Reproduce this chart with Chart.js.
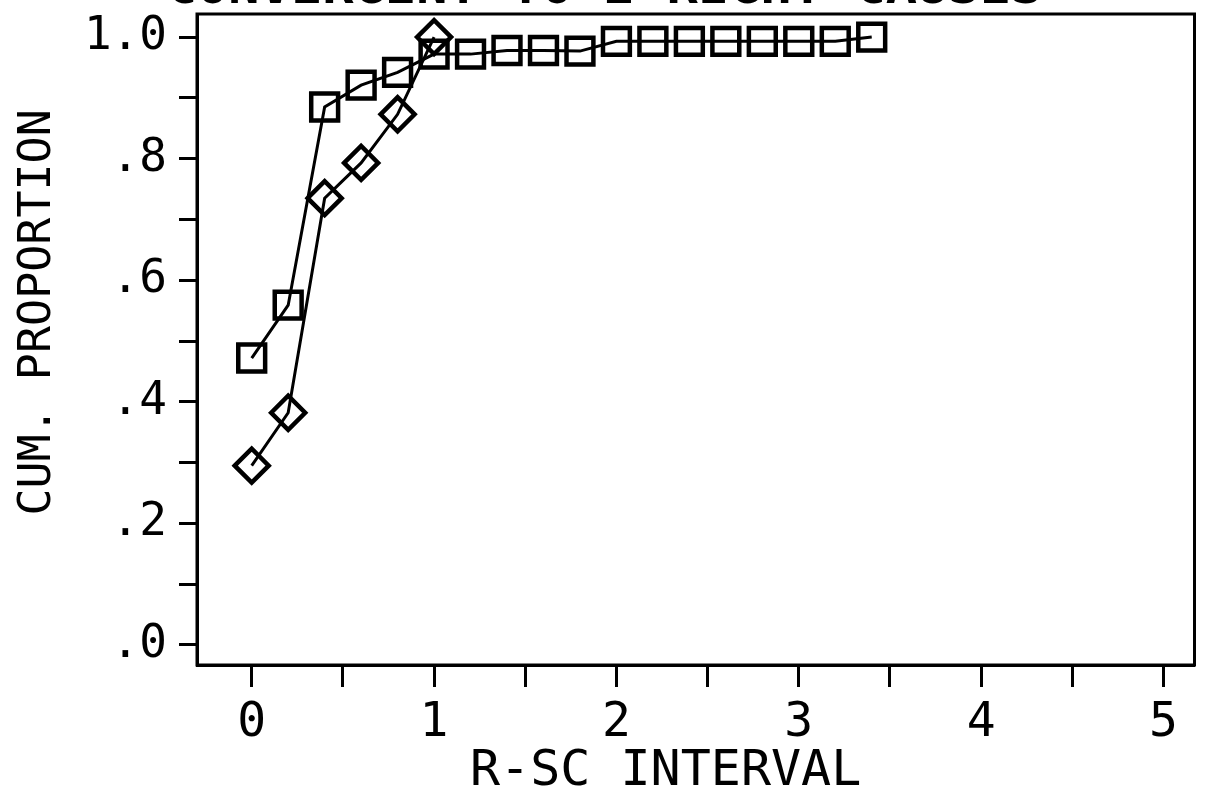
<!DOCTYPE html>
<html>
<head>
<meta charset="utf-8">
<title>R-SC interval</title>
<script src="https://cdn.jsdelivr.net/npm/chart.js@4/dist/chart.umd.min.js"></script>
<style>
  html, body { margin: 0; padding: 0; background: #fff; overflow: hidden; }
  #wrap { position: absolute; left: 0; top: -36px; width: 1218px; height: 833px; }
</style>
</head>
<body>
<div id="wrap"><canvas id="chart"></canvas></div>
<script>
// intervalos R-SC (eje x)
const intervals = [0, 0.2, 0.4, 0.6, 0.8, 1.0, 1.2, 1.4, 1.6, 1.8, 2.0, 2.2, 2.4, 2.6, 2.8, 3.0, 3.2, 3.4];
// serie con cuadrados
const squareValues = [0.472, 0.559, 0.885, 0.921, 0.942, 0.972, 0.972, 0.978, 0.978, 0.977, 0.993, 0.993, 0.993, 0.993, 0.993, 0.993, 0.993, 1.0];
// serie con rombos (solo hasta 1.0)
const diamondIntervals = [0, 0.2, 0.4, 0.6, 0.8, 1.0];
const diamondValues = [0.295, 0.382, 0.735, 0.793, 0.873, 1.0];
// marcas de los ejes
const xTicks = [0, 0.5, 1, 1.5, 2, 2.5, 3, 3.5, 4, 4.5, 5];
const xTickLabels = ["0", "", "1", "", "2", "", "3", "", "4", "", "5"];
const yTicks = [0, 0.1, 0.2, 0.3, 0.4, 0.5, 0.6, 0.7, 0.8, 0.9, 1.0];
const yTickLabels = [".0", "", ".2", "", ".4", "", ".6", "", ".8", "", "1.0"];

const FONT = "'DejaVu Sans Mono', 'Liberation Mono', monospace";

// marco completo alrededor del área del gráfico
const frame = {
  id: "frame",
  afterDraw(chart) {
    const a = chart.chartArea, ctx = chart.ctx;
    ctx.save();
    ctx.strokeStyle = "#000";
    ctx.lineWidth = 3;
    ctx.strokeRect(a.left, a.top, a.right - a.left, a.bottom - a.top);
    ctx.restore();
  }
};

document.addEventListener("DOMContentLoaded", function () {
  new Chart(document.getElementById("chart"), {
    type: "scatter",
    data: {
      datasets: [
        {
          label: "rombos",
          data: diamondIntervals.map((x, i) => ({ x: x, y: diamondValues[i] })),
          showLine: true,
          borderColor: "#000",
          borderWidth: 3,
          pointStyle: "rectRot",
          pointRadius: 17,
          pointBorderWidth: 4.5,
          pointBackgroundColor: "rgba(0,0,0,0)",
          pointBorderColor: "#000",
        },
        {
          label: "cuadrados",
          data: intervals.map((x, i) => ({ x: x, y: squareValues[i] })),
          showLine: true,
          borderColor: "#000",
          borderWidth: 3,
          pointStyle: "rect",
          pointRadius: 19,
          pointBorderWidth: 4.5,
          pointBackgroundColor: "rgba(0,0,0,0)",
          pointBorderColor: "#000",
        },
      ],
    },
    options: {
      responsive: true,
      maintainAspectRatio: false,
      animation: false,
      layout: { padding: { left: 0, right: 10, top: 0, bottom: 0 } },
      plugins: {
        legend: { display: false },
        tooltip: { enabled: false },
        title: {
          display: true,
          text: "CONVERGENT TO 2 RIGHT CAUSES",
          color: "#000",
          font: { family: FONT, size: 52, lineHeight: "50px" },
          padding: { top: 0, bottom: 0 },
        },
      },
      scales: {
        x: {
          type: "linear",
          min: -0.3,
          max: 5.17,
          afterBuildTicks: (s) => { s.ticks = xTicks.map((v) => ({ value: v })); },
          afterFit: (s) => { s.height = 132; },
          border: { display: true, color: "#000", width: 3 },
          grid: { drawOnChartArea: false, drawTicks: true, tickLength: 22, tickWidth: 3, tickColor: "#000" },
          ticks: {
            color: "#000",
            padding: 8,
            maxRotation: 0,
            autoSkip: false,
            font: { family: FONT, size: 48 },
            callback: (v, i) => xTickLabels[i],
          },
          title: {
            display: true,
            text: "R-SC INTERVAL  ",
            color: "#000",
            font: { family: FONT, size: 50, lineHeight: 1 },
            padding: { top: 0, bottom: 0 },
          },
        },
        y: {
          type: "linear",
          min: -0.033,
          max: 1.038,
          afterBuildTicks: (s) => { s.ticks = yTicks.map((v) => ({ value: v })); },
          afterFit: (s) => { s.width = 197; },
          border: { display: true, color: "#000", width: 3 },
          grid: { drawOnChartArea: false, drawTicks: true, tickLength: 18, tickWidth: 3, tickColor: "#000" },
          ticks: {
            color: "#000",
            padding: 12,
            autoSkip: false,
            font: { family: FONT, size: 46 },
            callback: (v, i) => yTickLabels[i],
          },
          title: {
            display: true,
            text: "  CUM. PROPORTION",
            color: "#000",
            font: { family: FONT, size: 45, lineHeight: 1 },
            padding: { top: 16, bottom: 0 },
          },
        },
      },
    },
    plugins: [frame],
  });
});
</script>
</body>
</html>
